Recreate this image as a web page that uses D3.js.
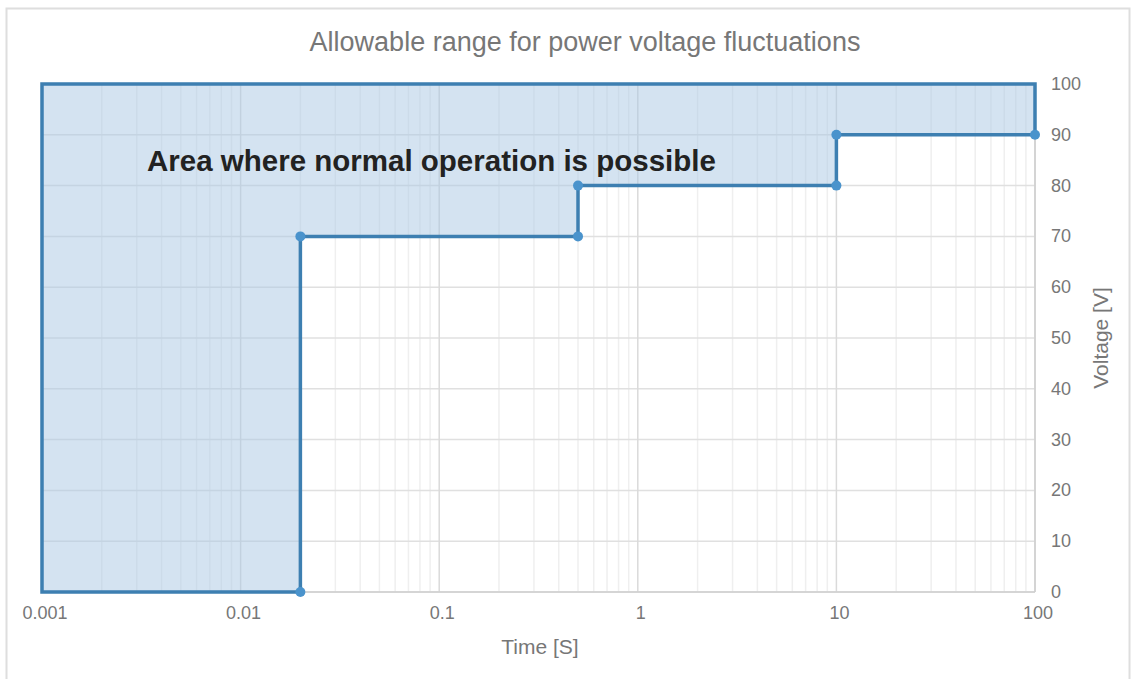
<!DOCTYPE html>
<html>
<head>
<meta charset="utf-8">
<script src="https://cdn.jsdelivr.net/npm/d3@7"></script>
<style>
  body { margin: 0; background: #fff; font-family: "Liberation Sans", Arial, sans-serif; }
  svg { display: block; }
</style>
</head>
<body>
<div id="chart"></div>
<script>
// ---- data ----
const areaTimes = [0.001, 0.02, 0.02, 0.5, 0.5, 10, 10, 100, 100, 0.001];
const areaVolts = [0, 0, 70, 70, 80, 80, 90, 90, 100, 100];
const stepTimes = [0.02, 0.02, 0.5, 0.5, 10, 10, 100];
const stepVolts = [0, 70, 70, 80, 80, 90, 90];
const xTicks = [0.001, 0.01, 0.1, 1, 10, 100];
const yTicks = [0, 10, 20, 30, 40, 50, 60, 70, 80, 90, 100];
const titleText = "Allowable range for power voltage fluctuations";
const noteText = "Area where normal operation is possible";

const width = 1132, height = 679;
const margin = { top: 84, right: 97, bottom: 87, left: 42 };

const svg = d3.select("#chart").append("svg")
  .attr("width", width).attr("height", height);

// outer frame
svg.append("rect")
  .attr("x", 6.5).attr("y", 8.5)
  .attr("width", width - 9).attr("height", height)
  .attr("fill", "none").attr("stroke", "#dedede").attr("stroke-width", 2);

const x = d3.scaleLog()
  .domain([0.001, 100])
  .range([margin.left, width - margin.right]);
const y = d3.scaleLinear()
  .domain([0, 100])
  .range([height - margin.bottom, margin.top]);

// minor vertical grid
const minor = x.ticks().filter(v => !xTicks.some(t => Math.abs(t - v) / t < 1e-9));
svg.append("g").selectAll("line").data(minor).join("line")
  .attr("x1", d => x(d)).attr("x2", d => x(d))
  .attr("y1", y(100)).attr("y2", y(0))
  .attr("stroke", "#efefef").attr("stroke-width", 1.5);

// horizontal grid
svg.append("g").selectAll("line").data(yTicks).join("line")
  .attr("x1", x(0.001)).attr("x2", x(100))
  .attr("y1", d => y(d)).attr("y2", d => y(d))
  .attr("stroke", "#e0e0e0").attr("stroke-width", 1.5);

// major vertical grid
svg.append("g").selectAll("line").data(xTicks).join("line")
  .attr("x1", d => x(d)).attr("x2", d => x(d))
  .attr("y1", y(100)).attr("y2", y(0))
  .attr("stroke", "#dadada").attr("stroke-width", 1.5);

// axes lines
svg.append("line")
  .attr("x1", x(0.001)).attr("x2", x(100))
  .attr("y1", y(0)).attr("y2", y(0))
  .attr("stroke", "#cfcfcf").attr("stroke-width", 1.5);
svg.append("line")
  .attr("x1", x(100)).attr("x2", x(100))
  .attr("y1", y(0)).attr("y2", y(100))
  .attr("stroke", "#cfcfcf").attr("stroke-width", 1.5);

// area
const areaPts = areaTimes.map((t, i) => [t, areaVolts[i]]);
svg.append("path")
  .datum(areaPts)
  .attr("d", d3.line().x(d => x(d[0])).y(d => y(d[1])).curve(d3.curveLinearClosed))
  .attr("fill", "rgba(170,199,227,0.5)")
  .attr("stroke", "#3d7fb1").attr("stroke-width", 3.5)
  .attr("stroke-linejoin", "miter");

// step points
const stepPts = stepTimes.map((t, i) => [t, stepVolts[i]]);
svg.append("g").selectAll("circle").data(stepPts).join("circle")
  .attr("cx", d => x(d[0])).attr("cy", d => y(d[1]))
  .attr("r", 5).attr("fill", "#4a93cc");

// x tick labels
svg.append("g").selectAll("text").data(xTicks).join("text")
  .attr("x", d => x(d) + 3).attr("y", y(0) + 27)
  .attr("text-anchor", "middle")
  .attr("font-size", 18).attr("fill", "#777")
  .text(d => d3.format("~g")(d));

// y tick labels
svg.append("g").selectAll("text").data(yTicks).join("text")
  .attr("x", x(100) + 16).attr("y", d => y(d) + 6)
  .attr("font-size", 18).attr("fill", "#777")
  .text(d => d);

// titles
svg.append("text")
  .attr("x", 585).attr("y", 51)
  .attr("text-anchor", "middle")
  .attr("font-size", 27).attr("fill", "#777")
  .text(titleText);

svg.append("text")
  .attr("x", 540).attr("y", 654)
  .attr("text-anchor", "middle")
  .attr("font-size", 21).attr("fill", "#777")
  .text("Time [S]");

svg.append("text")
  .attr("transform", `translate(1108,${(y(0) + y(100)) / 2}) rotate(-90)`)
  .attr("text-anchor", "middle")
  .attr("font-size", 21).attr("fill", "#777")
  .text("Voltage [V]");

svg.append("text")
  .attr("x", 147).attr("y", 171)
  .attr("font-size", 29.5).attr("font-weight", "bold").attr("fill", "#222")
  .text(noteText);
</script>
</body>
</html>
